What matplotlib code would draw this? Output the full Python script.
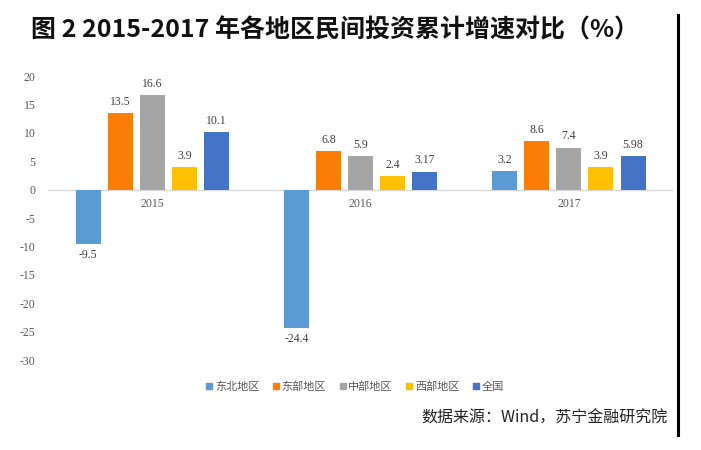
import matplotlib
matplotlib.use("Agg")
import matplotlib.pyplot as plt
import numpy as np
from matplotlib.lines import Line2D

plt.rcParams['font.family'] = ['Noto Sans CJK SC', 'DejaVu Sans']

years = ['2015', '2016', '2017']
series_names = ['东北地区', '东部地区', '中部地区', '西部地区', '全国']
northeast = [-9.5, -24.4, 3.2]
east = [13.5, 6.8, 8.6]
central = [16.6, 5.9, 7.4]
west = [3.9, 2.4, 3.9]
national = [10.1, 3.17, 5.98]
labels_text = [['-9.5', '-24.4', '3.2'], ['13.5', '6.8', '8.6'], ['16.6', '5.9', '7.4'],
               ['3.9', '2.4', '3.9'], ['10.1', '3.17', '5.98']]
colors = ['#5B9BD5', '#FA7D05', '#A5A5A5', '#FFC000', '#4472C4']
yticks = [20, 15, 10, 5, 0, -5, -10, -15, -20, -25, -30]

series = [northeast, east, central, west, national]

fig = plt.figure(figsize=(7.01, 4.5), dpi=100)
ax = fig.add_axes([48/701, 1-360/450, 625/701, 284/450])

x = np.arange(len(years))
step = 0.154
width = 0.12
serif = 'Liberation Serif'
for i, (vals, c) in enumerate(zip(series, colors)):
    pos = x + (i - 2) * step
    ax.bar(pos, vals, width, color=c, label=series_names[i], zorder=3)
    for p, v, t in zip(pos, vals, labels_text[i]):
        off = 0.9 if v >= 0 else -0.9
        ax.text(p, v + off, t, ha='center', va='bottom' if v >= 0 else 'top',
                fontsize=8.5, family=serif, color='#404040')

ax.set_xlim(-0.5, 2.5)
ax.set_ylim(-30, 20)
ax.set_yticks(yticks)
ax.set_yticklabels([str(t) for t in yticks], family=serif, fontsize=8.5, color='#595959')
ax.tick_params(axis='y', length=0, pad=9)
ax.set_xticks([])
for s in ax.spines.values():
    s.set_visible(False)
ax.axhline(0, color='#D9D9D9', lw=1, zorder=2)
for xi, yr in zip(x, years):
    ax.text(xi, -1.5, yr, ha='center', va='top', family=serif, fontsize=8.5, color='#595959')

handles = [Line2D([0], [0], marker='s', color='none', markerfacecolor=c, markeredgecolor=c,
                  markersize=4.5) for c in colors]
fig.legend(handles, series_names, loc='center', bbox_to_anchor=(355/701, 1-387/450),
           ncol=5, frameon=False, fontsize=8, handlelength=0.6, handletextpad=0.2,
           columnspacing=1.2, labelcolor='#595959')

fig.text(31/701, 1-30/450, '图 2 2015-2017 年各地区民间投资累计增速对比（%）',
         fontsize=18, fontweight='bold', ha='left', va='center', color='#111111')
fig.text(668/701, 1-418/450, '数据来源：Wind，苏宁金融研究院', fontsize=11.5, style='italic',
         ha='right', va='center', color='#222222')
fig.add_artist(Line2D([678/701, 678/701], [1-15/450, 1-435/450], color='black', lw=2.2,
                      transform=fig.transFigure))

fig.savefig('out.png', dpi=100)
